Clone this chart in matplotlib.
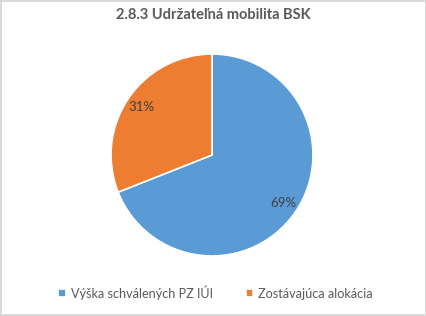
import matplotlib
matplotlib.use('Agg')
import matplotlib.pyplot as plt

plt.rcParams['font.family'] = ['Lato', 'DejaVu Sans']

# Data
labels = ['Výška schválených PZ IÚI', 'Zostávajúca alokácia']
shares = [69, 31]
colors = ['#5B9BD5', '#ED7D31']
title = '2.8.3 Udržateľná mobilita BSK'

fig = plt.figure(figsize=(4.27, 3.16), dpi=100)
fig.patch.set_facecolor('white')
fig.patch.set_edgecolor('#D9D9D9')
fig.patch.set_linewidth(1.5)

ax = fig.add_axes([0.26, 0.19, 0.473, 0.639])
wedges, texts, autotexts = ax.pie(
    shares, colors=colors, startangle=90, counterclock=False,
    autopct='%d%%', pctdistance=0.85, radius=1.0,
    wedgeprops=dict(edgecolor='white', linewidth=1.2),
    textprops=dict(color='#404040', fontsize=9.5))
ax.set_xlim(-1, 1)
ax.set_ylim(-1, 1)
ax.set_aspect('equal')

fig.text(0.5, 0.952, title, ha='center', va='center', fontsize=10.5,
         fontweight='bold', color='#595959')

fig.legend(wedges, labels, loc='center', bbox_to_anchor=(0.505, 0.075),
           ncol=2, frameon=False, fontsize=9.1, handlelength=0.6,
           handleheight=0.6, handletextpad=0.4, columnspacing=2.6,
           labelcolor='#595959')

fig.savefig('out.png', dpi=100, facecolor=fig.get_facecolor(),
            edgecolor=fig.get_edgecolor())
